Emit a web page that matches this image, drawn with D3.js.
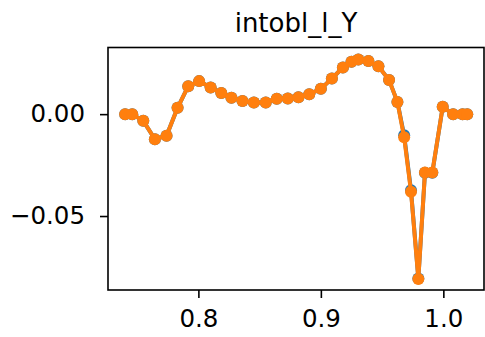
<!DOCTYPE html>
<html><head><meta charset="utf-8">
<script src="https://cdn.jsdelivr.net/npm/d3@7"></script>
<style>body{margin:0;background:#fff}svg{display:block}text{font-family:"DejaVu Sans",sans-serif;fill:#000}</style>
</head><body><svg id="c" width="485" height="337"></svg>
<script>
const xValues = [0.7402,0.746,0.755,0.7645,0.774,0.783,0.7917,0.8006,0.810,0.8187,0.827,0.836,0.8453,0.855,0.864,0.873,0.8817,0.8905,0.900,0.909,0.918,0.925,0.9306,0.9388,0.947,0.9557,0.9625,0.968,0.9736,0.9796,0.985,0.991,0.9995,1.008,1.0157,1.0195];
const seriesBlue = [0,0,-0.0033,-0.0123,-0.0106,0.0031,0.0137,0.0162,0.0131,0.0104,0.008,0.0065,0.0057,0.0057,0.0075,0.0077,0.0083,0.0098,0.0124,0.0175,0.0229,0.0257,0.0268,0.0261,0.0235,0.0167,0.006,-0.0104,-0.0374,-0.0806,-0.0288,-0.0288,0.0036,0,0,0];
const seriesOrange = [0,0,-0.0033,-0.0123,-0.0106,0.0031,0.0137,0.0162,0.0131,0.0104,0.008,0.0065,0.0057,0.0057,0.0075,0.0077,0.0083,0.0098,0.0124,0.0175,0.0229,0.0257,0.0268,0.0261,0.0235,0.0167,0.006,-0.0114,-0.0381,-0.0809,-0.0286,-0.0286,0.0036,0,0,0];
const xTicks = [0.8,0.9,1.0];
const yTicks = [0.00,-0.05];
const title = "intobl_l_Y";

const svg = d3.select("#c");
const L=108,R=484,T=47.5,B=290;
const x = d3.scaleLinear().domain([0.7262,1.0332]).range([L,R]);
const y = d3.scaleLinear().domain([-0.0863,0.0327]).range([B,T]);

const g = svg.append("g");
const line = d3.line().x((d,i)=>x(xValues[i])).y(d=>y(d));
[[seriesBlue,"#1f77b4"],[seriesOrange,"#ff7f0e"]].forEach(([s,c])=>{
  g.append("path").datum(s).attr("d",line).attr("fill","none").attr("stroke",c).attr("stroke-width",4).attr("stroke-linejoin","round");
  g.selectAll(null).data(s).enter().append("circle").attr("cx",(d,i)=>x(xValues[i])).attr("cy",d=>y(d)).attr("r",6).attr("fill",c);
});

const xa = svg.append("g").attr("transform",`translate(0,${B})`).call(d3.axisBottom(x).tickValues(xTicks).tickFormat(d3.format(".1f")).tickSizeOuter(0).tickSize(8).tickPadding(12));
const ya = svg.append("g").attr("transform",`translate(${L},0)`).call(d3.axisLeft(y).tickValues(yTicks).tickFormat(d=>d3.format(".2f")(d).replace("-","\u2212")).tickSizeOuter(0).tickSize(8).tickPadding(15));
[xa,ya].forEach(a=>{a.select(".domain").remove();a.selectAll("line").attr("stroke","#000").attr("stroke-width",1.6);a.selectAll("text").attr("font-size",24.5).attr("font-family","DejaVu Sans").attr("fill","#000");});
svg.append("rect").attr("x",L).attr("y",T).attr("width",R-L).attr("height",B-T).attr("fill","none").attr("stroke","#000").attr("stroke-width",1.6);
svg.append("text").attr("x",(L+R)/2).attr("y",32).attr("text-anchor","middle").attr("font-size",26).text(title);
</script></body></html>
